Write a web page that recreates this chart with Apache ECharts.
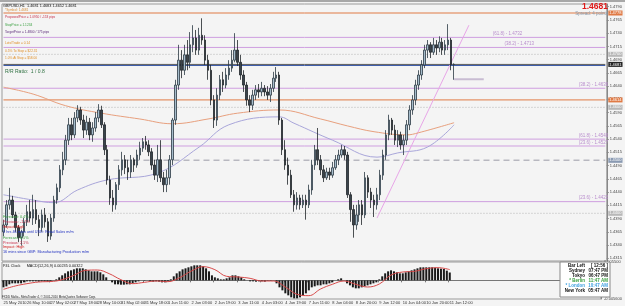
<!DOCTYPE html>
<html><head><meta charset="utf-8">
<script src="https://cdn.jsdelivr.net/npm/echarts@6/dist/echarts.min.js"></script>
<style>html,body{margin:0;padding:0;background:#f4f4f4;}#c{width:625px;height:306px;}</style>
</head><body><div id="c"></div><script>
// ---- data ----
const tickLabels = ["25 May 2010","26 May 10:00","27 May 02:00","27 May 18:00","28 May 10:00","31 May 02:00","31 May 18:00","1 Jun 11:00","2 Jun 03:00","2 Jun 19:00","3 Jun 11:00","4 Jun 03:00","4 Jun 19:00","7 Jun 11:00","8 Jun 04:00","8 Jun 20:00","9 Jun 12:00","10 Jun 04:00","10 Jun 20:00","11 Jun 12:00"];
const priceTicks = [1.4315,1.4340,1.4365,1.4390,1.4415,1.4440,1.4465,1.4490,1.4515,1.4540,1.4565,1.4590,1.4615,1.4640,1.4665,1.4690,1.4715,1.4740,1.4765,1.4790];
// [open, close, low, high]
const ohlc = [
[1.4365,1.4378,1.4357,1.4388],[1.4378,1.4416,1.4373,1.4425],[1.4416,1.4425,1.4407,1.4448],[1.4425,1.4397,1.4391,1.4433],
[1.4397,1.4373,1.4365,1.4403],[1.4373,1.4354,1.4346,1.4378],[1.4354,1.4365,1.4339,1.4369],[1.4365,1.4384,1.4357,1.4391],
[1.4384,1.4403,1.4376,1.4416],[1.4403,1.4391,1.4384,1.4425],[1.4391,1.4407,1.4378,1.4435],[1.4407,1.4388,1.4380,1.4425],
[1.4388,1.4373,1.4357,1.4397],[1.4373,1.4397,1.4365,1.4407],[1.4397,1.4384,1.4373,1.4410],[1.4384,1.4357,1.4346,1.4391],
[1.4357,1.4391,1.4350,1.4399],[1.4391,1.4425,1.4384,1.4433],[1.4425,1.4448,1.4418,1.4456],[1.4448,1.4482,1.4440,1.4491],
[1.4482,1.4501,1.4472,1.4516],[1.4501,1.4538,1.4491,1.4548],[1.4538,1.4567,1.4529,1.4580],[1.4567,1.4548,1.4538,1.4580],
[1.4548,1.4580,1.4542,1.4591],[1.4580,1.4595,1.4572,1.4604],[1.4595,1.4576,1.4567,1.4601],[1.4576,1.4557,1.4542,1.4586],
[1.4557,1.4572,1.4548,1.4584],[1.4572,1.4548,1.4538,1.4580],[1.4548,1.4561,1.4535,1.4572],[1.4561,1.4580,1.4554,1.4591],
[1.4580,1.4595,1.4572,1.4606],[1.4595,1.4567,1.4561,1.4603],[1.4567,1.4520,1.4510,1.4572],[1.4520,1.4463,1.4454,1.4529],
[1.4463,1.4429,1.4416,1.4471],[1.4429,1.4416,1.4403,1.4444],[1.4416,1.4454,1.4407,1.4459],[1.4454,1.4482,1.4444,1.4491],
[1.4482,1.4501,1.4471,1.4516],[1.4501,1.4486,1.4474,1.4510],[1.4486,1.4478,1.4463,1.4501],[1.4478,1.4501,1.4467,1.4510],
[1.4501,1.4491,1.4478,1.4505],[1.4491,1.4510,1.4486,1.4520],[1.4510,1.4523,1.4501,1.4535],[1.4523,1.4535,1.4516,1.4542],
[1.4535,1.4529,1.4520,1.4546],[1.4529,1.4516,1.4508,1.4538],[1.4516,1.4491,1.4482,1.4523],[1.4491,1.4472,1.4463,1.4501],
[1.4472,1.4501,1.4459,1.4529],[1.4501,1.4467,1.4459,1.4538],[1.4467,1.4454,1.4440,1.4478],[1.4454,1.4467,1.4440,1.4482],
[1.4467,1.4501,1.4454,1.4510],[1.4501,1.4576,1.4491,1.4580],[1.4576,1.4642,1.4567,1.4652],[1.4642,1.4689,1.4633,1.4718],
[1.4689,1.4670,1.4655,1.4708],[1.4670,1.4699,1.4661,1.4718],[1.4699,1.4685,1.4670,1.4727],[1.4685,1.4718,1.4674,1.4742],
[1.4718,1.4731,1.4704,1.4755],[1.4731,1.4708,1.4699,1.4746],[1.4708,1.4736,1.4699,1.4750],[1.4736,1.4727,1.4718,1.4768],
[1.4727,1.4689,1.4680,1.4736],[1.4689,1.4670,1.4652,1.4699],[1.4670,1.4614,1.4604,1.4680],[1.4614,1.4576,1.4561,1.4623],
[1.4576,1.4623,1.4565,1.4636],[1.4623,1.4652,1.4614,1.4661],[1.4652,1.4642,1.4629,1.4667],[1.4642,1.4661,1.4636,1.4674],
[1.4661,1.4674,1.4652,1.4689],[1.4674,1.4689,1.4667,1.4708],[1.4689,1.4708,1.4685,1.4740],[1.4708,1.4685,1.4678,1.4727],
[1.4685,1.4661,1.4652,1.4699],[1.4661,1.4642,1.4629,1.4670],[1.4642,1.4614,1.4603,1.4648],[1.4614,1.4604,1.4591,1.4623],
[1.4604,1.4623,1.4595,1.4633],[1.4623,1.4633,1.4614,1.4642],[1.4633,1.4629,1.4618,1.4644],[1.4629,1.4636,1.4621,1.4648],
[1.4636,1.4629,1.4621,1.4642],[1.4629,1.4623,1.4614,1.4640],[1.4623,1.4636,1.4610,1.4644],[1.4636,1.4655,1.4629,1.4667],
[1.4655,1.4661,1.4648,1.4676],[1.4661,1.4576,1.4567,1.4667],[1.4576,1.4520,1.4510,1.4580],[1.4520,1.4491,1.4482,1.4538],
[1.4491,1.4472,1.4454,1.4505],[1.4472,1.4435,1.4429,1.4482],[1.4435,1.4416,1.4403,1.4444],[1.4416,1.4429,1.4407,1.4440],
[1.4429,1.4416,1.4407,1.4435],[1.4416,1.4425,1.4410,1.4435],[1.4425,1.4416,1.4388,1.4435],[1.4416,1.4444,1.4410,1.4454],
[1.4444,1.4491,1.4435,1.4501],[1.4491,1.4520,1.4482,1.4529],[1.4520,1.4501,1.4491,1.4561],[1.4501,1.4482,1.4472,1.4510],
[1.4482,1.4467,1.4459,1.4491],[1.4467,1.4478,1.4463,1.4486],[1.4478,1.4472,1.4463,1.4486],[1.4472,1.4486,1.4467,1.4497],
[1.4486,1.4501,1.4482,1.4510],[1.4501,1.4510,1.4491,1.4520],[1.4510,1.4520,1.4505,1.4529],[1.4520,1.4510,1.4501,1.4527],
[1.4510,1.4435,1.4429,1.4516],[1.4435,1.4407,1.4384,1.4440],[1.4407,1.4378,1.4354,1.4416],[1.4378,1.4397,1.4369,1.4416],
[1.4397,1.4416,1.4384,1.4425],[1.4416,1.4397,1.4378,1.4425],[1.4397,1.4467,1.4391,1.4478],[1.4467,1.4440,1.4429,1.4472],
[1.4440,1.4425,1.4410,1.4448],[1.4425,1.4416,1.4393,1.4435],[1.4416,1.4435,1.4407,1.4448],[1.4435,1.4472,1.4425,1.4482],
[1.4472,1.4510,1.4463,1.4520],[1.4510,1.4548,1.4501,1.4557],[1.4548,1.4576,1.4538,1.4586],[1.4576,1.4557,1.4548,1.4580],
[1.4557,1.4538,1.4529,1.4567],[1.4538,1.4548,1.4525,1.4557],[1.4548,1.4529,1.4520,1.4554],[1.4529,1.4538,1.4510,1.4548],
[1.4538,1.4567,1.4529,1.4576],[1.4567,1.4595,1.4557,1.4604],[1.4595,1.4614,1.4586,1.4623],[1.4614,1.4642,1.4604,1.4652],
[1.4642,1.4661,1.4633,1.4670],[1.4661,1.4680,1.4652,1.4689],[1.4680,1.4708,1.4674,1.4718],[1.4708,1.4718,1.4693,1.4727],
[1.4718,1.4704,1.4693,1.4723],[1.4704,1.4718,1.4699,1.4731],[1.4718,1.4712,1.4699,1.4727],[1.4712,1.4723,1.4704,1.4734],
[1.4723,1.4708,1.4699,1.4731],[1.4708,1.4718,1.4699,1.4727],[1.4718,1.4727,1.4708,1.4757],[1.4727,1.4681,1.4670,1.4731],
[1.4681,1.4681,1.4652,1.4683]
];
// moving averages: [bar index, price]
const maOrange = [[0,1.4638],[10,1.4625],[21,1.4603],[33,1.4589],[46,1.4578],[57,1.4569],[69,1.4578],[79,1.4589],[93,1.4595],[107,1.4578],[116,1.4565],[125,1.4554],[136,1.4548],[140,1.4552],[152,1.4571]];
const maLavender = [[0,1.4435],[10,1.4425],[17,1.4420],[25,1.4444],[35,1.4463],[52,1.4476],[66,1.4525],[76,1.4567],[93,1.4582],[98,1.4570],[111,1.4538],[126,1.4506],[133,1.4514],[143,1.4525],[152,1.4567]];
const macdMain = [-0.0021,-0.0018,-0.0012,-0.0009,-0.0009,-0.0009,-0.0009,-0.0006,-0.0003,-0.0003,-0.0003,-0.0003,-0.0004,-0.0003,-0.0003,-0.0004,-0.0003,0.0000,0.0003,0.0009,
0.0015,0.0021,0.0027,0.0030,0.0033,0.0036,0.0036,0.0036,0.0033,0.0030,0.0027,0.0027,0.0027,0.0024,0.0018,0.0009,0.0000,-0.0006,-0.0012,-0.0012,
-0.0013,-0.0013,-0.0012,-0.0012,-0.0009,-0.0006,-0.0003,0.0000,0.0001,0.0000,-0.0003,-0.0004,-0.0003,-0.0004,-0.0006,-0.0006,-0.0003,0.0003,0.0012,0.0021,
0.0027,0.0033,0.0036,0.0039,0.0042,0.0045,0.0045,0.0045,0.0042,0.0036,0.0027,0.0015,0.0009,0.0006,0.0003,0.0003,0.0006,0.0009,0.0015,0.0015,
0.0012,0.0009,0.0003,0.0000,-0.0003,-0.0003,-0.0004,-0.0003,-0.0003,-0.0004,-0.0001,0.0001,0.0000,-0.0009,-0.0021,-0.0030,-0.0039,-0.0045,-0.0051,-0.0054,
-0.0054,-0.0051,-0.0045,-0.0039,-0.0030,-0.0021,-0.0018,-0.0015,-0.0015,-0.0012,-0.0012,-0.0009,-0.0006,0.0000,0.0003,0.0006,0.0000,-0.0009,-0.0015,-0.0021,
-0.0024,-0.0024,-0.0021,-0.0018,-0.0015,-0.0012,-0.0009,-0.0006,0.0003,0.0012,0.0021,0.0027,0.0030,0.0027,0.0024,0.0021,0.0021,0.0024,0.0027,0.0030,
0.0033,0.0036,0.0039,0.0039,0.0039,0.0039,0.0039,0.0038,0.0036,0.0035,0.0034,0.0029,0.00235];
const macdSignal = [[0,-0.0027],[4,-0.0017],[8,-0.0010],[12,-0.0005],[17,-0.0003],[20,0.0002],[24,0.0015],[28,0.0030],[32,0.0031],[36,0.0020],[40,0.0002],[44,-0.0010],[48,-0.0006],[52,-0.0002],[56,-0.0004],[60,0.0008],[64,0.0028],[68,0.0041],[72,0.0032],[76,0.0012],[80,0.0010],[84,0.0006],[88,-0.0002],[92,-0.0002],[96,-0.0020],[100,-0.0042],[104,-0.0046],[108,-0.0026],[112,-0.0012],[116,-0.0002],[120,-0.0012],[124,-0.0020],[128,-0.0011],[132,0.0016],[136,0.0025],[140,0.0027],[144,0.0035],[148,0.0038],[152,0.00322]];
// horizontal levels: [price, label, label bar index]
const fibLevels = [[1.4732,'(61.8) - 1.4732',170],[1.4713,'(38.2) - 1.4713',174],[1.4636,'(38.2) - 1.4636',199],[1.4540,'(61.8) - 1.4540',199],[1.4527,'(23.6) - 1.4527',199],[1.4422,'(23.6) - 1.4422',199]];
const orangeLevels = [1.4778, 1.4614];
const roundLevels = [1.4700, 1.4600, 1.4400];
const dashedLevel = 1.4500;
const bidPrice = 1.4681, askLine = 1.4679, lowMark = 1.4653;
const trendLine = [[126,1.4391],[157,1.4755]];

// ---- chart ----
const N = 204;
const xIdx = Array.from({length: N}, (_, i) => i);
const F = '"Liberation Sans", Arial, sans-serif';
const fmt4 = v => v.toFixed(4);

function hline(p, color, width, type, box, z) {
  const s = {type:'line', xAxisIndex:0, yAxisIndex:0, data:[[0,p],[N-1,p]], symbol:'none', silent:true, z:z||2,
    lineStyle:{color:color, width:width, type:type}};
  if (box) s.endLabel = {show:true, distance:3, formatter:fmt4(p), backgroundColor:box, color:'#fff', fontSize:4, fontFamily:F, padding:[1,1,0,1]};
  return s;
}
const levelSeries = [];
fibLevels.forEach(f => levelSeries.push(hline(f[0], '#cf9fe0', 1, 'solid')));
roundLevels.forEach(p => levelSeries.push(hline(p, '#b4b4b4', 1, [1,2], '#b8b8b8')));
levelSeries.push(hline(dashedLevel, '#b8b8c0', 1.5, [6,4], '#8a9ab2'));
orangeLevels.forEach(p => levelSeries.push(hline(p, '#e07a45', 1, 'solid', '#e07a45')));
levelSeries.push(hline(askLine, '#3556a8', 1, 'solid'));
levelSeries.push(hline(bidPrice, '#5a5a5a', 1, 'solid', '#262626', 4));
levelSeries.push({type:'line', xAxisIndex:0, yAxisIndex:0, data:[[152,lowMark],[162,lowMark]], symbol:'none', silent:true, lineStyle:{color:'#c8bcd2', width:2}});
levelSeries.push({type:'line', xAxisIndex:0, yAxisIndex:0, data:trendLine, symbol:'none', silent:true, lineStyle:{color:'#e8a6e8', width:1}});

const mpData = fibLevels.map(f => ({coord:[f[2], f[0]], symbol:'circle', symbolSize:0,
  label:{show:true, position:'top', distance:1, formatter:f[1], color:'#b88ccc', fontSize:4.5, fontFamily:F}}));

const txt = (x, y, t, color, size, extra) => ({type:'text', x:x, y:y, silent:true, z:100,
  style:Object.assign({text:t, fill:color, font:(extra && extra.bold ? 'bold ' : '') + size + 'px ' + F, textVerticalAlign:'middle', textAlign:(extra && extra.right) ? 'right' : 'left'})});

const chart = echarts.init(document.getElementById('c'));
chart.setOption({
  animation:false,
  backgroundColor:'#f4f4f4',
  grid:[
    {left:2, right:15, top:4, bottom:45, show:true, borderColor:'#9a9a9a', borderWidth:1, backgroundColor:'#f4f4f4'},
    {left:2, right:15, top:262, bottom:7, show:true, borderColor:'#9a9a9a', borderWidth:1, backgroundColor:'#f4f4f4'}
  ],
  xAxis:[
    {type:'category', gridIndex:0, data:xIdx, boundaryGap:true, axisLine:{show:false}, axisTick:{show:false}, axisLabel:{show:false}, splitLine:{show:false}},
    {type:'category', gridIndex:1, data:xIdx, boundaryGap:true, axisLine:{show:true,lineStyle:{color:'#777'}},
     axisTick:{show:true, length:2, interval:(i)=> i%8===0 && i/8 < tickLabels.length, lineStyle:{color:'#777'}},
     axisLabel:{show:true, interval:0, margin:2, fontSize:4, fontFamily:F, color:'#333', align:'left',
       formatter:(v,i)=> (i%8===0 && i/8 < tickLabels.length) ? tickLabels[i/8] : ''},
     splitLine:{show:false}}
  ],
  yAxis:[
    {type:'value', gridIndex:0, position:'right', min:1.4310, max:1.4795,
     axisLine:{show:true, lineStyle:{color:'#888'}}, axisTick:{show:true, length:2, customValues:priceTicks, lineStyle:{color:'#888'}},
     axisLabel:{show:true, margin:3, fontSize:4, fontFamily:F, color:'#444', customValues:priceTicks, formatter:fmt4},
     splitLine:{show:false}},
    {type:'value', gridIndex:1, position:'right', min:-0.0056, max:0.0055,
     axisLine:{show:true, lineStyle:{color:'#888'}}, axisTick:{show:false},
     axisLabel:{show:true, margin:3, fontSize:4, fontFamily:F, color:'#444', customValues:[0.0055,-0.0056], formatter:v=>v.toFixed(6)},
     splitLine:{show:false}}
  ],
  series: levelSeries.concat([
    {type:'line', xAxisIndex:0, yAxisIndex:0, data:maOrange, smooth:0.4, symbol:'none', silent:true, lineStyle:{color:'#e8a07e', width:1}, z:3},
    {type:'line', xAxisIndex:0, yAxisIndex:0, data:maLavender, smooth:0.4, symbol:'none', silent:true, lineStyle:{color:'#a9a6da', width:1}, z:3},
    {type:'candlestick', xAxisIndex:0, yAxisIndex:0, data:ohlc, barWidth:2, z:5,
     itemStyle:{color:'#a6bccb', color0:'#3a444c', borderColor:'#2c3a44', borderColor0:'#1f2428', borderWidth:0.8},
     markPoint:{silent:true, data:mpData}},
    {type:'bar', xAxisIndex:1, yAxisIndex:1, data:macdMain, barWidth:2, itemStyle:{color:'#1a1a1a'}},
    {type:'line', xAxisIndex:1, yAxisIndex:1, data:macdSignal, smooth:0.4, symbol:'none', lineStyle:{color:'#d84a4a', width:1}}
  ]),
  graphic:[
    {type:'rect', x:0, y:0, z:98, shape:{width:625, height:2}, style:{fill:'#a8a8a8'}},
    txt(3,6,'GBPUSD,H1  1.4681 1.4683 1.4652 1.4681','#111',3.8),
    txt(5,10,'*Symbol: 1.4681','#d8903a',3.2),
    txt(5,17,'ProposedPrice = 1.0950 / -153 pips','#c8304c',3.2),
    txt(5,25,'StopPrice = 1.1234','#3aa040',3.2),
    txt(5,32,'TargetPrice = 1.4800 / 175 pips','#5a2878',3.2),
    txt(5,43,'Lots/Trade = 0.14','#e0902a',3.2),
    txt(5,51,'0.5% To Stop = $22.31','#e0902a',3.2),
    txt(5,58,'1.0% At Stop = $58.00','#e0902a',3.2),
    txt(5,72,'R/R Ratio:  1 / 0.8','#2e7040',5),
    txt(608,7,'1.4681','#e01818',8.5,{bold:1,right:1}),
    txt(608,14,'Spread: 4 points','#8899aa',4.5,{right:1}),
    txt(3,217,'Forecast: 0.4%','#3aa040',3.8),
    txt(3,222,'Previous: -1.2%','#c8304c',3.8),
    txt(3,227,'Impact: High','#d01818',3.8),
    txt(3,232,'1 hrs 46 mins until USD: Retail Sales m/m','#2030c0',3.8),
    txt(3,238,'Forecast: 0.5%','#3aa040',3.8),
    txt(3,243,'Previous: 2.1%','#c8304c',3.8),
    txt(3,247,'Impact: High','#d01818',3.8),
    txt(3,252,'16 mins since GBP: Manufacturing Production m/m','#2030c0',3.8),
    txt(3,266,'P4L Clock      MACD(12,26,9) 0.00235 0.00322','#111',3.8),
    txt(2,297,'FXDD Malta - MetaTrader 4, \u00a9 2001-2010 MetaQuotes Software Corp.','#222',3),
    {type:'rect', x:560, y:262, z:99, shape:{width:50, height:35}, style:{fill:'#ffffff', stroke:'#888', lineWidth:1}},
    txt(585,266,'Bar Left','#111',4.5,{bold:1,right:1}),
    txt(608,266,'[ 12:56 ]','#111',4.5,{bold:1,right:1}),
    txt(585,271,'Sydney','#111',4.5,{bold:1,right:1}),
    txt(608,271,'07:47 PM','#111',4.5,{bold:1,right:1}),
    txt(585,276,'Tokyo','#111',4.5,{bold:1,right:1}),
    txt(608,276,'06:47 PM','#111',4.5,{bold:1,right:1}),
    txt(585,281,'* Berlin','#3aa040',4.5,{bold:1,right:1}),
    txt(608,281,'11:47 AM','#3aa040',4.5,{bold:1,right:1}),
    txt(585,286,'* London','#40a0e0',4.5,{bold:1,right:1}),
    txt(608,286,'10:47 AM','#40a0e0',4.5,{bold:1,right:1}),
    txt(585,291,'New York','#111',4.5,{bold:1,right:1}),
    txt(608,291,'05:47 AM','#111',4.5,{bold:1,right:1})
  ]
});
</script></body></html>
